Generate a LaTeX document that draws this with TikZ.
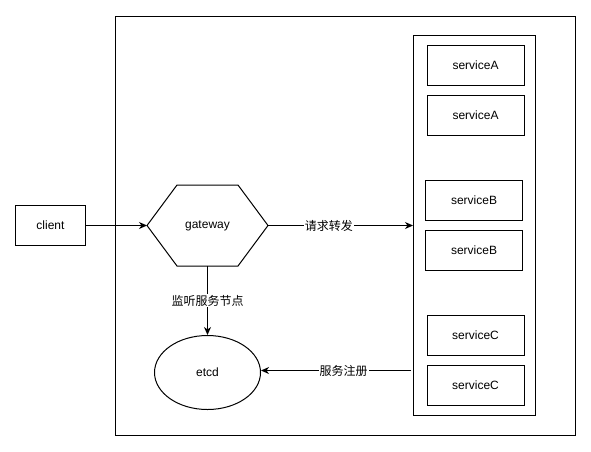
\documentclass[tikz,border=0pt]{standalone}
\usepackage{fontspec}
\setmainfont{Liberation Sans}
\newfontfamily\cjk{Noto Sans CJK SC}
\usetikzlibrary{shapes.geometric,arrows.meta,calc}

\begin{document}
\begin{tikzpicture}[x=1pt,y=-1pt,line width=1pt,
	    every node/.style={font=\fontsize{12}{14}\selectfont},
	    box/.style={draw,rectangle,minimum width=97pt,minimum height=40pt,inner sep=0pt},
	    lbl/.style={fill=white,inner sep=1pt,font=\cjk\fontsize{12}{14}\selectfont},
	    >={Stealth[length=8pt,width=7pt,inset=2.5pt]}]
	    \useasboundingbox (0,0) rectangle (591,451);
	    \draw (115.5,16) rectangle (575.5,435);
	    \draw (413,35.5) rectangle (535.5,415.5);
	    
	    \node[draw,rectangle,minimum width=70pt,minimum height=40pt,inner sep=0pt] at (50.5,225.5) (client) {client};
	    \node[minimum width=120pt,minimum height=80pt,inner sep=0pt] at (207.5,225.5) (gateway) {gateway};
	    \draw (gateway.west) -- ($(gateway.north west)+(30,0)$) -- ($(gateway.north east)+(-30,0)$)
	        -- (gateway.east) -- ($(gateway.south east)+(-30,0)$) -- ($(gateway.south west)+(30,0)$) -- cycle;
	    \node[draw,ellipse,minimum width=106pt,minimum height=74pt,inner sep=0pt] at (207.5,372.5) (etcd) {etcd};
	    
	    \node[box] at (475.5,65.5) (svcA1) {serviceA};
	    \node[box] at (475.5,115.5) (svcA2) {serviceA};
	    \node[box] at (474,200.5) (svcB1) {serviceB};
	    \node[box] at (474,250.5) (svcB2) {serviceB};
	    \node[box] at (475.5,335.5) (svcC1) {serviceC};
	    \node[box] at (475.5,385.5) (svcC2) {serviceC};
	    \coordinate (fwd) at (413,225.5);
	    \coordinate (reg) at (411,370.5);
	    
	    \draw[->] (client) -- (gateway);
	    \draw[->] (gateway) -- node[lbl,pos=0.42] {请求转发} (fwd);
	    \draw[->] (gateway) -- node[lbl,pos=0.5] {监听服务节点} (etcd);
	    \draw[->] (reg) -- node[lbl,pos=0.45] {服务注册} (etcd.east |- reg);
	    
	    \end{tikzpicture}
\end{document}
